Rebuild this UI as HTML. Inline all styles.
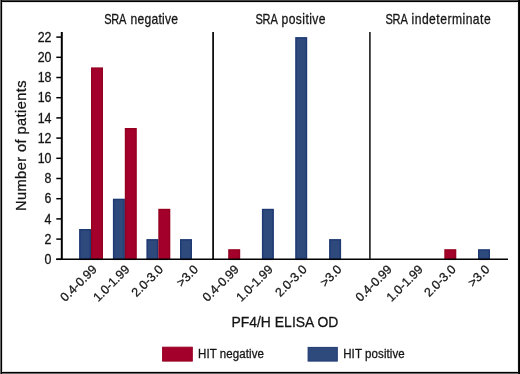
<!DOCTYPE html>
<html><head><meta charset="utf-8"><style>
html,body{margin:0;padding:0;background:#fff;}
svg{display:block;will-change:transform;}
text{font-family:"Liberation Sans",sans-serif;fill:#141414;stroke:#141414;stroke-width:0.28px;}
.yt{font-size:13.8px;}
.xl{font-size:12.4px;}
.tt{font-size:13.8px;}
.yl{font-size:14.6px;}
.xt{font-size:14.5px;}
.lg{font-size:12px;}
</style></head><body>
<svg width="520" height="374" viewBox="0 0 520 374">
<rect width="520" height="374" fill="#fff"/>
<rect x="79.85" y="229.75" width="10.5" height="29.55" fill="#2e4a7d" stroke="#1e3a73" stroke-width="1.5"/>
<rect x="91.75" y="68.15" width="10.5" height="191.15" fill="#a3002c" stroke="#960020" stroke-width="1.5"/>
<rect x="113.65" y="199.45" width="10.5" height="59.85" fill="#2e4a7d" stroke="#1e3a73" stroke-width="1.5"/>
<rect x="125.55" y="128.75" width="10.5" height="130.55" fill="#a3002c" stroke="#960020" stroke-width="1.5"/>
<rect x="147.15" y="239.85" width="10.5" height="19.45" fill="#2e4a7d" stroke="#1e3a73" stroke-width="1.5"/>
<rect x="159.05" y="209.55" width="10.5" height="49.75" fill="#a3002c" stroke="#960020" stroke-width="1.5"/>
<rect x="180.75" y="239.85" width="10.5" height="19.45" fill="#2e4a7d" stroke="#1e3a73" stroke-width="1.5"/>
<rect x="228.95" y="249.95" width="10.5" height="9.35" fill="#a3002c" stroke="#960020" stroke-width="1.5"/>
<rect x="262.65" y="209.55" width="10.5" height="49.75" fill="#2e4a7d" stroke="#1e3a73" stroke-width="1.5"/>
<rect x="295.95" y="37.85" width="10.5" height="221.45" fill="#2e4a7d" stroke="#1e3a73" stroke-width="1.5"/>
<rect x="329.85" y="239.85" width="10.5" height="19.45" fill="#2e4a7d" stroke="#1e3a73" stroke-width="1.5"/>
<rect x="445.05" y="249.95" width="10.5" height="9.35" fill="#a3002c" stroke="#960020" stroke-width="1.5"/>
<rect x="478.75" y="249.95" width="10.5" height="9.35" fill="#2e4a7d" stroke="#1e3a73" stroke-width="1.5"/>
<line x1="61.8" y1="32" x2="61.8" y2="260.0" stroke="#000" stroke-width="2"/>
<line x1="56.2" y1="259.3" x2="508" y2="259.3" stroke="#000" stroke-width="1.5"/>
<line x1="213.1" y1="32" x2="213.1" y2="259" stroke="#000" stroke-width="1.7"/>
<line x1="369.9" y1="32" x2="369.9" y2="259" stroke="#2a2a2a" stroke-width="1.7"/>
<line x1="56.3" y1="259.30" x2="61" y2="259.30" stroke="#000" stroke-width="1.5"/>
<text transform="translate(51.5,264.05) scale(0.9,1)" text-anchor="end" class="yt">0</text>
<line x1="56.3" y1="239.10" x2="61" y2="239.10" stroke="#000" stroke-width="1.5"/>
<text transform="translate(51.5,243.85) scale(0.9,1)" text-anchor="end" class="yt">2</text>
<line x1="56.3" y1="218.90" x2="61" y2="218.90" stroke="#000" stroke-width="1.5"/>
<text transform="translate(51.5,223.65) scale(0.9,1)" text-anchor="end" class="yt">4</text>
<line x1="56.3" y1="198.70" x2="61" y2="198.70" stroke="#000" stroke-width="1.5"/>
<text transform="translate(51.5,203.45) scale(0.9,1)" text-anchor="end" class="yt">6</text>
<line x1="56.3" y1="178.50" x2="61" y2="178.50" stroke="#000" stroke-width="1.5"/>
<text transform="translate(51.5,183.25) scale(0.9,1)" text-anchor="end" class="yt">8</text>
<line x1="56.3" y1="158.30" x2="61" y2="158.30" stroke="#000" stroke-width="1.5"/>
<text transform="translate(51.5,163.05) scale(0.9,1)" text-anchor="end" class="yt">10</text>
<line x1="56.3" y1="138.10" x2="61" y2="138.10" stroke="#000" stroke-width="1.5"/>
<text transform="translate(51.5,142.85) scale(0.9,1)" text-anchor="end" class="yt">12</text>
<line x1="56.3" y1="117.90" x2="61" y2="117.90" stroke="#000" stroke-width="1.5"/>
<text transform="translate(51.5,122.65) scale(0.9,1)" text-anchor="end" class="yt">14</text>
<line x1="56.3" y1="97.70" x2="61" y2="97.70" stroke="#000" stroke-width="1.5"/>
<text transform="translate(51.5,102.45) scale(0.9,1)" text-anchor="end" class="yt">16</text>
<line x1="56.3" y1="77.50" x2="61" y2="77.50" stroke="#000" stroke-width="1.5"/>
<text transform="translate(51.5,82.25) scale(0.9,1)" text-anchor="end" class="yt">18</text>
<line x1="56.3" y1="57.30" x2="61" y2="57.30" stroke="#000" stroke-width="1.5"/>
<text transform="translate(51.5,62.05) scale(0.9,1)" text-anchor="end" class="yt">20</text>
<line x1="56.3" y1="37.10" x2="61" y2="37.10" stroke="#000" stroke-width="1.5"/>
<text transform="translate(51.5,41.85) scale(0.9,1)" text-anchor="end" class="yt">22</text>
<text transform="translate(97.50,270.20) rotate(-45)" text-anchor="end" class="xl">0.4-0.99</text>
<text transform="translate(130.30,270.20) rotate(-45)" text-anchor="end" class="xl">1.0-1.99</text>
<text transform="translate(163.90,270.20) rotate(-45)" text-anchor="end" class="xl">2.0-3.0</text>
<text transform="translate(198.90,270.20) rotate(-45)" text-anchor="end" class="xl">&gt;3.0</text>
<text transform="translate(239.70,270.20) rotate(-45)" text-anchor="end" class="xl">0.4-0.99</text>
<text transform="translate(273.50,270.20) rotate(-45)" text-anchor="end" class="xl">1.0-1.99</text>
<text transform="translate(307.50,270.20) rotate(-45)" text-anchor="end" class="xl">2.0-3.0</text>
<text transform="translate(342.50,270.20) rotate(-45)" text-anchor="end" class="xl">&gt;3.0</text>
<text transform="translate(392.70,270.20) rotate(-45)" text-anchor="end" class="xl">0.4-0.99</text>
<text transform="translate(423.70,270.20) rotate(-45)" text-anchor="end" class="xl">1.0-1.99</text>
<text transform="translate(456.50,270.20) rotate(-45)" text-anchor="end" class="xl">2.0-3.0</text>
<text transform="translate(490.30,270.20) rotate(-45)" text-anchor="end" class="xl">&gt;3.0</text>
<text transform="translate(104.3,23.8) scale(0.8,1)" class="tt" textLength="27.5" lengthAdjust="spacing">SRA</text>
<text transform="translate(130.5,23.8) scale(0.88,1)" class="tt" textLength="53.98" lengthAdjust="spacing">negative</text>
<text transform="translate(255.4,23.8) scale(0.8,1)" class="tt" textLength="28.0" lengthAdjust="spacing">SRA</text>
<text transform="translate(281.5,23.8) scale(0.88,1)" class="tt" textLength="50.0" lengthAdjust="spacing">positive</text>
<text transform="translate(385.4,23.8) scale(0.8,1)" class="tt" textLength="28.0" lengthAdjust="spacing">SRA</text>
<text transform="translate(411.5,23.8) scale(0.88,1)" class="tt" textLength="90.0" lengthAdjust="spacing">indeterminate</text>
<text transform="translate(25.9,211.0) rotate(-90)" class="yl" textLength="130.6" lengthAdjust="spacing">Number of patients</text>
<text transform="translate(231.4,326.7) scale(0.96,1)" class="xt" textLength="111.46" lengthAdjust="spacing">PF4/H ELISA OD</text>
<rect x="162.6" y="347.2" width="29.7" height="13.9" fill="#a3002c" stroke="#960020" stroke-width="1"/>
<rect x="308.1" y="347.4" width="29.2" height="13.7" fill="#2e4a7d" stroke="#1e3a73" stroke-width="1"/>
<text transform="translate(198,357.7) scale(0.96,1)" class="lg" textLength="68.75" lengthAdjust="spacing">HIT negative</text>
<text transform="translate(343.2,357.7) scale(0.96,1)" class="lg" textLength="64.06" lengthAdjust="spacing">HIT positive</text>
<rect x="0" y="2" width="520" height="1" fill="#e6e6e6" shape-rendering="crispEdges"/>
<rect x="0" y="371" width="520" height="1" fill="#dcdcdc" shape-rendering="crispEdges"/>
<rect x="2" y="0" width="1" height="374" fill="#dcdcdc" shape-rendering="crispEdges"/>
<rect x="517" y="0" width="1" height="374" fill="#ececec" shape-rendering="crispEdges"/>
<rect x="0" y="0" width="520" height="1" fill="#444" shape-rendering="crispEdges"/>
<rect x="0" y="1" width="520" height="1" fill="#000" shape-rendering="crispEdges"/>
<rect x="0" y="372" width="520" height="1" fill="#000" shape-rendering="crispEdges"/>
<rect x="0" y="373" width="520" height="1" fill="#666" shape-rendering="crispEdges"/>
<rect x="0" y="0" width="1" height="374" fill="#666" shape-rendering="crispEdges"/>
<rect x="1" y="0" width="1" height="374" fill="#000" shape-rendering="crispEdges"/>
<rect x="518" y="0" width="1" height="374" fill="#111" shape-rendering="crispEdges"/>
<rect x="519" y="0" width="1" height="374" fill="#000" shape-rendering="crispEdges"/>
</svg>
</body></html>
